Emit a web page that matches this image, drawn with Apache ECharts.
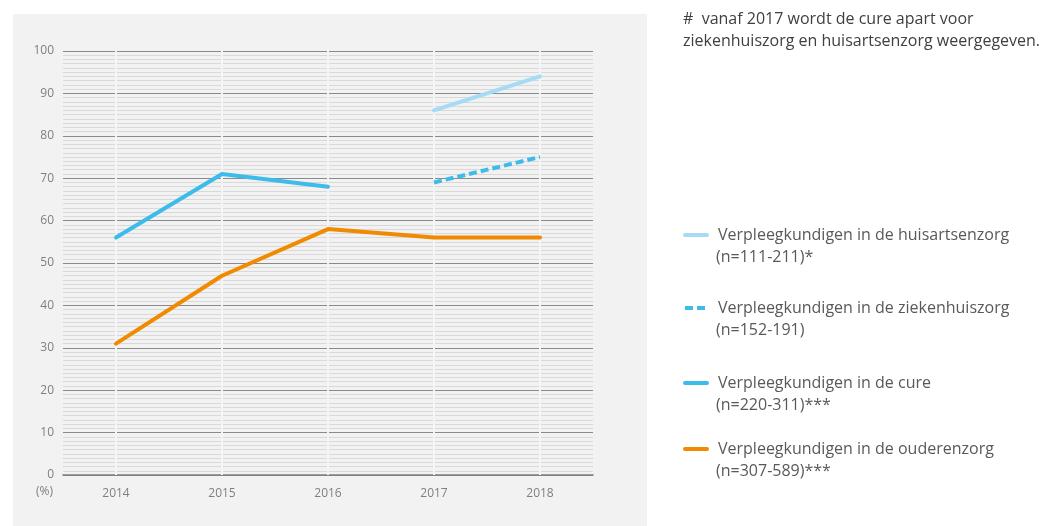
<!DOCTYPE html>
<html>
<head>
<meta charset="utf-8">
<script src="https://cdn.jsdelivr.net/npm/echarts@6/dist/echarts.min.js"></script>
<style>
html,body{margin:0;padding:0;background:#fff;}
#c{width:1043px;height:526px;}
</style>
</head>
<body>
<div id="c"></div>
<script>
var categories = ['2014', '2015', '2016', '2017', '2018'];
var huisarts = [null, null, null, 86, 94];
var ziekenhuis = [null, null, null, 69, 75];
var cure = [56, 71, 68, null, null];
var ouderen = [31, 47, 58, 56, 56];
var seriesNames = [
  'Verpleegkundigen in de huisartsenzorg',
  'Verpleegkundigen in de ziekenhuiszorg',
  'Verpleegkundigen in de cure',
  'Verpleegkundigen in de ouderenzorg'
];
var nLabels = ['(n=111-211)*', '(n=152-191)', '(n=220-311)***', '(n=307-589)***'];
var noteLines = ['#  vanaf 2017 wordt de cure apart voor', 'ziekenhuiszorg en huisartsenzorg weergegeven.'];
var yTicks = [0, 10, 20, 30, 40, 50, 60, 70, 80, 90, 100];

var FONT = 'Open Sans';
var colors = ['#a6dbf6', '#3dbcec', '#3dbcec', '#f08a00'];
var legendTops = [224, 297, 372, 438];

var chart = echarts.init(document.getElementById('c'));

var legends = seriesNames.map(function (n, i) {
  return {
    data: [n],
    left: 683,
    top: legendTops[i],
    padding: 0,
    itemWidth: 22,
    itemHeight: 4,
    lineStyle: { width: 4 },
    itemStyle: { opacity: 0 },
    textStyle: { color: '#595959', fontFamily: FONT, fontSize: 16, lineHeight: 22, padding: [0, 0, 0, 6] },
    selectedMode: false
  };
});

var graphics = [
  { type: 'rect', z: -10, left: 13, top: 14, shape: { width: 634, height: 512 }, style: { fill: '#f2f2f2' } },
  { type: 'text', left: 36, top: 486, style: { text: '(%)', fill: '#7f7f7f', font: '12px "' + FONT + '"' } }
];
noteLines.forEach(function (t, i) {
  graphics.push({ type: 'text', left: 683, top: 11 + i * 22, style: { text: t, fill: '#404040', font: '16px "' + FONT + '"' } });
});
nLabels.forEach(function (t, i) {
  graphics.push({ type: 'text', left: 716, top: legendTops[i] + 22, style: { text: t, fill: '#595959', font: '16px "' + FONT + '"', lineHeight: 22 } });
});

function lineSeries(name, data, color, dashed) {
  return {
    name: name,
    type: 'line',
    data: data,
    symbol: 'none',
    z: 5,
    connectNulls: false,
    lineStyle: { color: color, width: 4, type: dashed ? [8, 4] : 'solid', cap: dashed ? 'butt' : 'round', join: 'round' },
    itemStyle: { color: color }
  };
}

chart.setOption({
  animation: false,
  backgroundColor: '#ffffff',
  graphic: graphics,
  legend: legends,
  grid: { left: 63, right: 450, top: 51, bottom: 51, containLabel: false },
  xAxis: {
    type: 'category',
    data: categories,
    boundaryGap: true,
    axisLine: { show: true, lineStyle: { color: '#7f7f7f', width: 1.5 } },
    axisTick: { show: false },
    axisLabel: { color: '#7f7f7f', fontFamily: FONT, fontSize: 12, margin: 13 },
    splitLine: { show: false }
  },
  yAxis: {
    type: 'value',
    min: 0,
    max: 100,
    interval: 10,
    axisLine: { show: false },
    axisTick: { show: false },
    axisLabel: { color: '#7f7f7f', fontFamily: FONT, fontSize: 12, margin: 9,
      formatter: function (v) { return yTicks.indexOf(v) >= 0 ? String(v) : ''; } },
    splitLine: { show: true, lineStyle: { color: '#8a8a8a', width: 1 } },
    minorTick: { show: false, splitNumber: 10 },
    minorSplitLine: { show: true, lineStyle: { color: '#d9d9d9', width: 1 } }
  },
  series: [
    {
      type: 'line',
      data: [],
      z: 1,
      silent: true,
      markLine: {
        silent: true,
        symbol: 'none',
        label: { show: false },
        lineStyle: { color: '#f5f5f5', width: 2, type: 'solid' },
        data: categories.map(function (c) { return { xAxis: c }; })
      }
    },
    lineSeries(seriesNames[0], huisarts, colors[0], false),
    lineSeries(seriesNames[1], ziekenhuis, colors[1], true),
    lineSeries(seriesNames[2], cure, colors[2], false),
    lineSeries(seriesNames[3], ouderen, colors[3], false)
  ]
});
</script>
</body>
</html>
